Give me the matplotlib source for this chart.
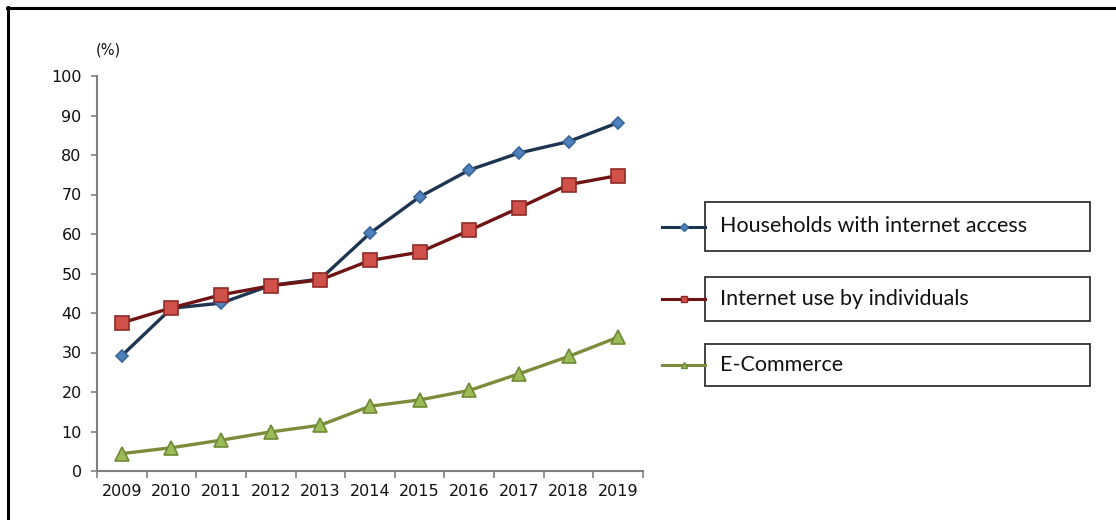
import matplotlib.pyplot as plt
from matplotlib.lines import Line2D
from matplotlib.patches import Rectangle

# Data
years = ['2009', '2010', '2011', '2012', '2013', '2014', '2015', '2016', '2017', '2018', '2019']
households = [29.2, 41.2, 42.5, 47.0, 48.6, 60.2, 69.4, 76.2, 80.5, 83.4, 88.2]
individuals = [37.5, 41.3, 44.6, 46.9, 48.4, 53.3, 55.4, 60.9, 66.6, 72.5, 74.8]
ecommerce = [4.4, 5.9, 7.8, 9.9, 11.6, 16.4, 18.0, 20.4, 24.6, 29.0, 33.9]

series_names = ['Households with internet access', 'Internet use by individuals', 'E-Commerce']
yticks = [0, 10, 20, 30, 40, 50, 60, 70, 80, 90, 100]

# styles: (line color, marker, marker face, marker edge, marker size)
styles = [
    ('#1d3550', 'D', '#4f81bd', '#3a6699', 6.5),
    ('#6e1414', 's', '#d0504a', '#8f2a25', 9.5),
    ('#7d8c3a', '^', '#9bbb59', '#6f8a35', 9.5),
]

fig = plt.figure(figsize=(11.16, 5.2), dpi=100)
fig.patch.set_facecolor('white')

ax = fig.add_axes([97 / 1116, 1 - 471 / 520, 546 / 1116, 395 / 520])
x = list(range(len(years)))
for vals, (lc, mk, mf, me, ms) in zip([households, individuals, ecommerce], styles):
    ax.plot(x, vals, color=lc, lw=2.4, marker=mk, markersize=ms,
            markerfacecolor=mf, markeredgecolor=me, markeredgewidth=1.2, zorder=3)

ax.set_ylim(0, 100)
ax.set_xlim(-0.5, len(years) - 0.5)
ax.set_yticks(yticks)
ax.set_yticklabels([str(v) for v in yticks])

# boundary ticks without labels, labels centred on categories
ax.set_xticks([i - 0.5 for i in range(len(years) + 1)])
ax.set_xticklabels([])
ax.set_xticks(x, minor=True)
ax.set_xticklabels(years, minor=True)
ax.tick_params(axis='x', which='major', length=5, width=1.2, color='#808080')
ax.tick_params(axis='x', which='minor', length=0, pad=9, labelsize=11.5, labelcolor='#111111')
ax.tick_params(axis='y', length=4, width=1.2, color='#808080', pad=7, labelsize=11.5, labelcolor='#111111')

for s in ['top', 'right']:
    ax.spines[s].set_visible(False)
for s in ['left', 'bottom']:
    ax.spines[s].set_color('#808080')
    ax.spines[s].set_linewidth(1.5)

ax.text(0.02, 1.066, '(%)', transform=ax.transAxes, fontsize=10.5, color='#111111',
        ha='center', va='center')

# legend drawn as separate boxes
box_rows = [(202, 251), (277, 321), (344, 386)]
for name, (top, bot), (lc, mk, mf, me, ms) in zip(series_names, box_rows, styles):
    y0 = 1 - bot / 520
    h = (bot - top) / 520
    fig.patches.append(Rectangle((705 / 1116, y0), 385 / 1116, h, transform=fig.transFigure,
                                 facecolor='white', edgecolor='#333333', lw=1.3))
    ymid = y0 + h / 2
    fig.lines.append(Line2D([662 / 1116, 705 / 1116], [ymid, ymid], transform=fig.transFigure,
                            color=lc, lw=2.2))
    fig.lines.append(Line2D([683.5 / 1116], [ymid], transform=fig.transFigure, marker=mk,
                            markersize=4, markerfacecolor=mf, markeredgecolor=me, lw=0))
    fig.text(720 / 1116, ymid, name, fontsize=15.5, family='Lato', color='#111111',
             ha='left', va='center')

# page frame: top and left edges only
fig.lines.append(Line2D([7 / 1116, 1.0], [1 - 8 / 520, 1 - 8 / 520], transform=fig.transFigure,
                        color='black', lw=2.2))
fig.lines.append(Line2D([8 / 1116, 8 / 1116], [0, 1 - 7 / 520], transform=fig.transFigure,
                        color='black', lw=2.2))

fig.savefig('out.png', dpi=100, facecolor='white')
